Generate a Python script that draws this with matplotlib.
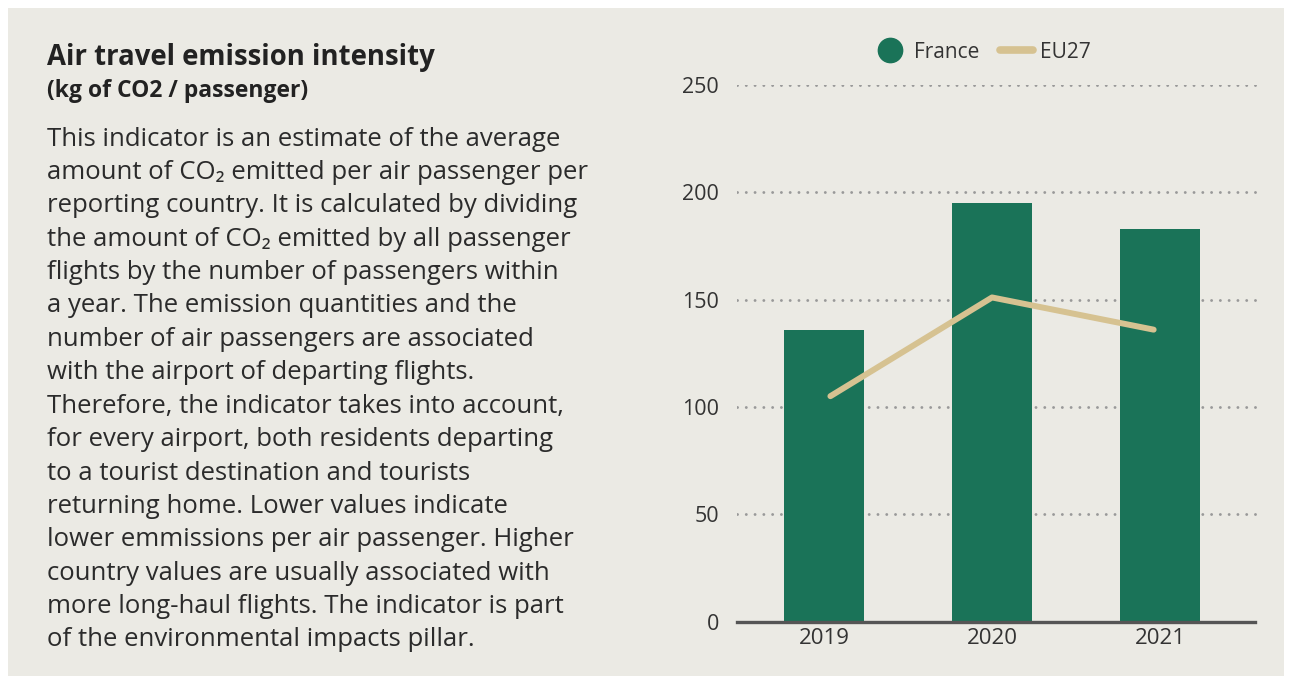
import numpy as np
import matplotlib.pyplot as plt
from matplotlib.lines import Line2D
from matplotlib.patches import Rectangle

years = ["2019", "2020", "2021"]
france = [136, 195, 183]
eu27 = [105, 151, 136]
yticks = [0, 50, 100, 150, 200, 250]

title = "Air travel emission intensity"
subtitle = "(kg of CO2 / passenger)"
body = [
    "This indicator is an estimate of the average",
    "amount of CO\u2082 emitted per air passenger per",
    "reporting country. It is calculated by dividing",
    "the amount of CO\u2082 emitted by all passenger",
    "flights by the number of passengers within",
    "a year. The emission quantities and the",
    "number of air passengers are associated",
    "with the airport of departing flights.",
    "Therefore, the indicator takes into account,",
    "for every airport, both residents departing",
    "to a tourist destination and tourists",
    "returning home. Lower values indicate",
    "lower emmissions per air passenger. Higher",
    "country values are usually associated with",
    "more long-haul flights. The indicator is part",
    "of the environmental impacts pillar.",
]

bg = "#EBEAE4"
green = "#1A7358"
tan = "#D6C291"
txt = "#2B2B2B"

plt.rcParams["font.family"] = ["Open Sans", "DejaVu Sans"]
plt.rcParams["lines.dash_capstyle"] = "round"

W, H = 1292, 676
fig = plt.figure(figsize=(W / 100, H / 100), dpi=100, facecolor="white")
fig.patches.append(Rectangle((8 / W, 0), (W - 16) / W, (H - 8) / H,
                             transform=fig.transFigure, facecolor=bg,
                             edgecolor="none", zorder=-10))

# left text block
fig.text(47 / W, 1 - 57 / H, title, fontsize=19.8, fontweight="bold",
         color="#222222", va="center", ha="left")
fig.text(47 / W, 1 - 91 / H, subtitle, fontsize=16.5, fontweight="bold",
         color="#222222", va="center", ha="left")
for i, line in enumerate(body):
    y = 139 + i * 33.4
    fig.text(47 / W, 1 - y / H, line, fontsize=18.5, color=txt,
             va="center", ha="left")

# chart
ax = fig.add_axes([737 / W, 1 - 621.5 / H, (1260 - 737) / W, (621.5 - 85) / H])
ax.set_facecolor("none")
x = np.arange(len(years))
ax.bar(x, france, width=0.48, color=green, zorder=2)
xl = 1 + (x - 1) * 0.962
ax.plot(xl, eu27, color=tan, lw=4.3, solid_capstyle="round",
        solid_joinstyle="round", zorder=3)

ax.set_xlim(-0.518, 2.595)
ax.set_ylim(0, 250)
ax.set_yticks(yticks)
ax.set_xticks(x, years)
ax.tick_params(axis="both", length=0, labelcolor="#333333")
ax.tick_params(axis="y", pad=13, labelsize=15.5)
ax.tick_params(axis="x", pad=5, labelsize=16)
for s in ax.spines.values():
    s.set_visible(False)
ax.yaxis.grid(True, color="#999999", lw=2.1, linestyle=(0, (0.01, 3.0)), zorder=0)
ax.set_axisbelow(True)
ax.axhline(0, color="#555555", lw=2.4, zorder=4, xmin=0, xmax=0.99,
           clip_on=False)

handles = [
    Line2D([], [], marker="o", color=green, markersize=17.5, lw=0),
    Line2D([], [], color=tan, lw=5.5, solid_capstyle="round"),
]
fig.legend(handles, ["France", "EU27"], loc="center", ncol=2,
           bbox_to_anchor=(982 / W, 1 - 52 / H), frameon=False,
           fontsize=15, handlelength=1.6, columnspacing=1.0,
           handletextpad=0.35, labelcolor="#333333")

fig.savefig("out.png", dpi=100, facecolor="white")
